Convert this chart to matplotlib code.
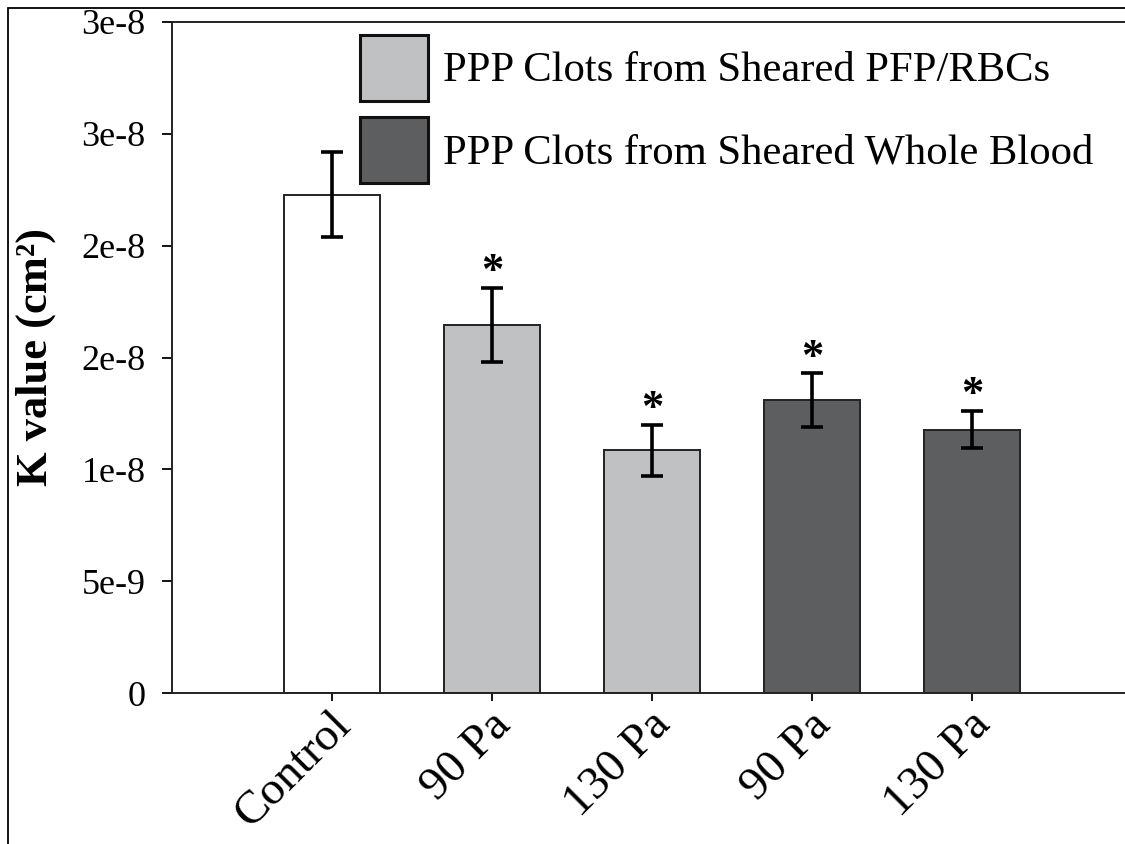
import matplotlib
matplotlib.use("Agg")
import matplotlib.pyplot as plt
from matplotlib.patches import Patch, Rectangle
from matplotlib.transforms import ScaledTranslation

# ---- data ----
categories = ["Control", "90 Pa", "130 Pa", "90 Pa", "130 Pa"]
k_values = [2.227e-8, 1.644e-8, 1.085e-8, 1.310e-8, 1.178e-8]
k_errors = [0.190e-8, 0.166e-8, 0.114e-8, 0.119e-8, 0.083e-8]
groups = ["Control", "PFP/RBCs", "PFP/RBCs", "Whole Blood", "Whole Blood"]
significant = [False, True, True, True, True]
legend_labels = ["PPP Clots from Sheared PFP/RBCs", "PPP Clots from Sheared Whole Blood"]
y_ticks = [0, 5e-9, 1e-8, 1.5e-8, 2e-8, 2.5e-8, 3e-8]
y_tick_labels = ["0", "5e-9", "1e-8", "2e-8", "2e-8", "3e-8", "3e-8"]

colors = {"Control": "#FFFFFF", "PFP/RBCs": "#C0C1C3", "Whole Blood": "#5D5E60"}

plt.rcParams["font.family"] = ["Liberation Serif", "DejaVu Serif"]

W, H = 1125, 844
fig = plt.figure(figsize=(W / 100, H / 100), dpi=100)

# outer frame (left/top visible)
fig.patches.append(Rectangle((8 / W, -0.5), 2.0, 1.5 - 8 / H, transform=fig.transFigure,
                             fill=False, edgecolor="black", linewidth=1.3))

ax = fig.add_axes([172 / W, 1 - 693 / H, 960 / W, (693 - 22) / H])

x = list(range(len(categories)))
bar_colors = [colors[g] for g in groups]
ax.bar(x, k_values, width=0.6, color=bar_colors, edgecolor="#222222", linewidth=1.4, zorder=2)
ax.errorbar(x, k_values, yerr=k_errors, fmt="none", ecolor="black", elinewidth=2.6,
            capsize=8, capthick=2.6, zorder=3)
for xi, v, e, s in zip(x, k_values, k_errors, significant):
    if s:
        ax.annotate("*", (xi, v + e), xytext=(0, -3), textcoords="offset points",
                    ha="center", va="bottom", fontsize=32, fontweight="bold")

ax.set_xlim(-1, 5)
ax.set_ylim(0, 3e-8)
ax.set_yticks(y_ticks)
ax.set_yticklabels(y_tick_labels, fontsize=26)
ax.set_xticks(x)
ax.tick_params(axis="y", direction="out", length=7, width=1.3, pad=12)
ax.tick_params(axis="x", direction="out", length=6, width=1.3, pad=6)
ax.set_xticklabels(categories, fontsize=34, rotation=45, ha="right", va="center",
                   rotation_mode="anchor")
shift = ScaledTranslation(12 / 100, -9 / 100, fig.dpi_scale_trans)
for lbl in ax.get_xticklabels():
    lbl.set_transform(lbl.get_transform() + shift)
ax.set_ylabel("K value (cm²)", fontsize=32, fontweight="bold", labelpad=18)

for side in ["left", "top", "bottom"]:
    ax.spines[side].set_linewidth(1.4)
    ax.spines[side].set_color("#222222")
ax.spines["right"].set_visible(False)

handles = [Patch(facecolor=colors["PFP/RBCs"], edgecolor="#111111", linewidth=2.2),
           Patch(facecolor=colors["Whole Blood"], edgecolor="#111111", linewidth=2.2)]
fig.legend(handles, legend_labels, loc="upper left", bbox_to_anchor=(360 / W, 1 - 35 / H),
           frameon=False, fontsize=30.7, handlelength=1.6, handleheight=2.0,
           handletextpad=0.35, labelspacing=0.37, borderpad=0, borderaxespad=0)

fig.savefig("out.png", dpi=100)
